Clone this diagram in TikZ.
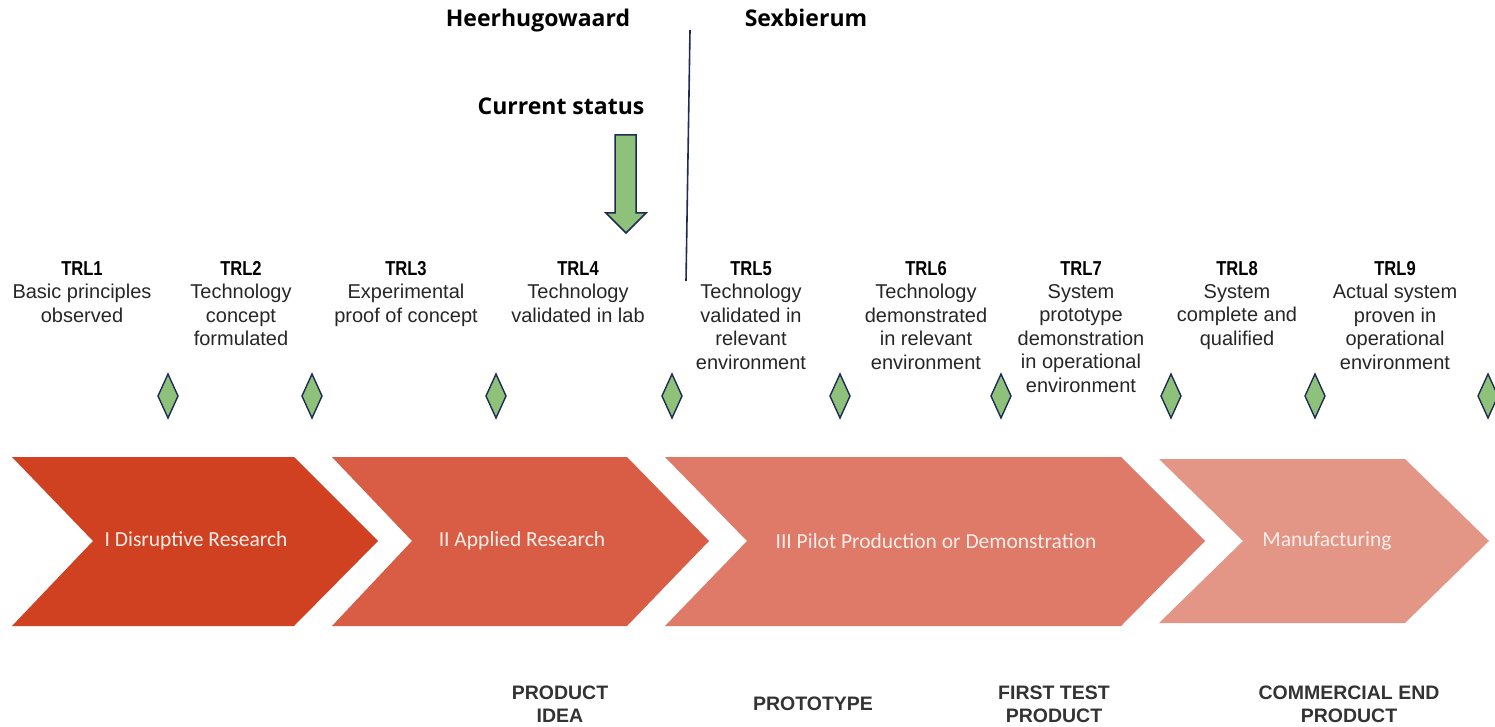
\documentclass[tikz,border=0pt]{standalone}
\usepackage{fontspec}
\setmainfont{Liberation Sans}
\newfontfamily\headfont{Open Sans}
\newfontfamily\bandfont{Carlito}
\definecolor{navy}{HTML}{1F2A55}
\definecolor{leaf}{HTML}{8EC27A}
\definecolor{chA}{HTML}{D04121}
\definecolor{chB}{HTML}{D95D45}
\definecolor{chC}{HTML}{DE7A67}
\definecolor{chD}{HTML}{E49686}
\definecolor{bandtext}{HTML}{FBEEEA}
\definecolor{ink}{HTML}{333333}
\newcommand{\tall}[1]{\scalebox{0.92}[1.12]{#1}}
\begin{document}
\begin{tikzpicture}[x=1pt,y=-1pt,
  site/.style={font=\headfont\bfseries\fontsize{23}{27}\selectfont, anchor=base, inner sep=0pt},
  trlhead/.style={font=\bfseries\fontsize{18}{20}\selectfont, anchor=base, inner sep=0pt},
  trldesc/.style={font=\fontsize{20}{23.5}\selectfont, align=center, anchor=north, inner sep=0pt, text=black!85},
  band/.style={font=\bandfont\fontsize{21.5}{24}\selectfont, text=bandtext, inner sep=0pt},
  outcome/.style={font=\bfseries\fontsize{19.5}{23}\selectfont, align=center, anchor=north, inner sep=0pt, text=ink},
  gem/.style={fill=leaf, draw=navy, line width=1.4pt, line join=miter},
]
\useasboundingbox (0,0) rectangle (1495,727);

% site headings and the boundary between them
\node[site] (hhw) at (538,27) {Heerhugowaard};
\node[site] (sxb) at (806,27) {Sexbierum};
\coordinate (divtop) at (690,30);
\coordinate (divbot) at (686,281);
\draw[navy, line width=1.6pt] (divtop) -- (divbot);

% current status marker
\node[site] (status) at (561,115) {Current status};
\draw[gem, line width=1.5pt] (615,135) -- (636,135) -- (636,213) -- (646,213) -- (626,233)
  -- (606,213) -- (615,213) -- cycle;

% technology readiness levels
\foreach \n/\x/\txt in {
  1/82/{Basic principles\\observed},
  2/241/{Technology\\concept\\formulated},
  3/406/{Experimental\\proof of concept},
  4/578/{Technology\\validated in lab},
  5/751/{Technology\\validated in\\relevant\\environment},
  6/926/{Technology\\demonstrated\\in relevant\\environment},
  7/1081/{System\\prototype\\demonstration\\in operational\\environment},
  8/1237/{System\\complete and\\qualified},
  9/1395/{Actual system\\proven in\\operational\\environment}} {
  \node[trlhead] (trl\n) at (\x,275) {\tall{TRL\n}};
  \node[trldesc] (desc\n) at (\x,284) {\txt};
}

% milestone diamonds
\foreach \x [count=\i] in {168,312,496,672,840,1001,1171,1315,1488} {
  \draw[gem] (\x-10,396) -- (\x,374) -- (\x+10,396) -- (\x,418) -- cycle;
}

% phase chevrons
\fill[chA] (12,457) -- (294,457) -- (378,541) -- (294,626) -- (12,626) -- (93,541) -- cycle;
\fill[chB] (332,457) -- (627,457) -- (709,541) -- (627,626) -- (332,626) -- (412,541) -- cycle;
\fill[chC] (665,457) -- (1121,457) -- (1205,541) -- (1121,626) -- (665,626) -- (747,541) -- cycle;
\fill[chD] (1159,459) -- (1405,459) -- (1489,541) -- (1405,623) -- (1159,623) -- (1243,541) -- cycle;
\node[band] (ph1) at (196,541) {I Disruptive Research};
\node[band] (ph2) at (522,541) {II Applied Research};
\node[band] (ph3) at (936,541) {III Pilot Production or Demonstration};
\node[band] (ph4) at (1327,541) {Manufacturing};

% outcomes
\node[outcome] (out1) at (560,686) {PRODUCT\\IDEA};
\node[outcome] (out2) at (813,697) {PROTOTYPE};
\node[outcome] (out3) at (1054,686) {FIRST TEST\\PRODUCT};
\node[outcome] (out4) at (1349,686) {COMMERCIAL END\\PRODUCT};
\end{tikzpicture}
\end{document}
